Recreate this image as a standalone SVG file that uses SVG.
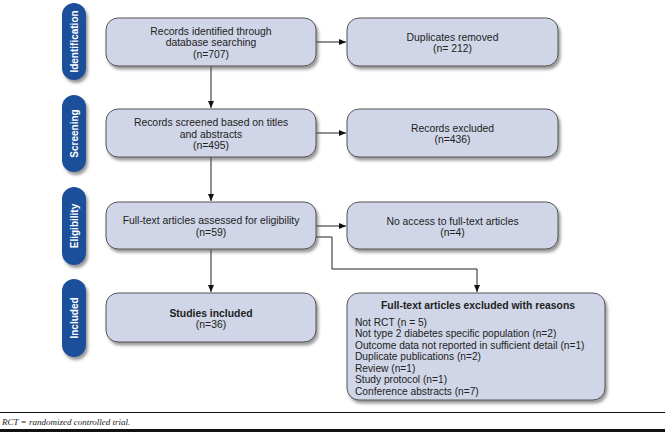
<svg xmlns="http://www.w3.org/2000/svg" width="665" height="432" viewBox="0 0 665 432">
<defs>
<filter id="sh" x="-10%" y="-10%" width="130%" height="140%">
<feDropShadow dx="2" dy="3" stdDeviation="1.5" flood-color="#555" flood-opacity="0.6"/>
</filter>
<marker id="ah" markerWidth="8" markerHeight="8" refX="7" refY="4" orient="auto" markerUnits="userSpaceOnUse">
<path d="M0,1 L7,4 L0,7 Z" fill="#111"/>
</marker>
<style>
.box{fill:#d0d6e7;stroke:#555;stroke-width:1;filter:url(#sh)}
.pill{fill:#1a4f9a;filter:url(#sh)}
.t{font-family:"Liberation Sans",Arial,sans-serif;font-size:10.4px;fill:#222;text-anchor:middle}
.l{text-anchor:start;font-size:10.2px}
.b{font-weight:bold}
.pt{font-family:"Liberation Sans",Arial,sans-serif;font-size:10px;font-weight:bold;fill:#fff;text-anchor:middle}
.c{fill:none;stroke:#222;stroke-width:1;marker-end:url(#ah)}
</style>
</defs>
<rect width="665" height="432" fill="#fff"/>

<g id="stage-identification"><rect class="pill" x="62" y="3" width="24" height="77" rx="12"/><text class="pt" transform="translate(77.5,41.5) rotate(-90)">Identification</text></g>
<g id="stage-screening"><rect class="pill" x="62" y="95" width="24" height="77" rx="12"/><text class="pt" transform="translate(77.5,133.5) rotate(-90)">Screening</text></g>
<g id="stage-eligibility"><rect class="pill" x="62" y="187" width="24" height="78" rx="12"/><text class="pt" transform="translate(77.5,226) rotate(-90)">Eligibility</text></g>
<g id="stage-included"><rect class="pill" x="62" y="279" width="24" height="78" rx="12"/><text class="pt" transform="translate(77.5,318) rotate(-90)">Included</text></g>

<g id="connectors">
<path class="c" d="M211,66 V108"/>
<path class="c" d="M211,157 V201"/>
<path class="c" d="M211,249 V292"/>
<path class="c" d="M316,42 H346"/>
<path class="c" d="M316,133 H346"/>
<path class="c" d="M316,226 H346"/>
<path class="c" d="M316,237 H332 V269 H477 V292"/>
</g>

<g id="records-identified"><rect class="box" x="106" y="18" width="210" height="48" rx="12"/>
<text class="t" x="211" y="34.5">Records identified through</text>
<text class="t" x="211" y="46">database searching</text>
<text class="t" x="211" y="57.5">(n=707)</text></g>

<g id="duplicates-removed"><rect class="box" x="347" y="18" width="211" height="48" rx="12"/>
<text class="t" x="452.5" y="40.5">Duplicates removed</text>
<text class="t" x="452.5" y="52">(n= 212)</text></g>

<g id="records-screened"><rect class="box" x="106" y="109" width="210" height="48" rx="12"/>
<text class="t" x="211" y="125.5">Records screened based on titles</text>
<text class="t" x="211" y="137.5">and abstracts</text>
<text class="t" x="211" y="149">(n=495)</text></g>

<g id="records-excluded"><rect class="box" x="347" y="109" width="211" height="48" rx="12"/>
<text class="t" x="452.5" y="131.5">Records excluded</text>
<text class="t" x="452.5" y="143">(n=436)</text></g>

<g id="full-text-assessed"><rect class="box" x="106" y="202" width="210" height="47" rx="12"/>
<text class="t" x="211" y="223.5">Full-text articles assessed for eligibility</text>
<text class="t" x="211" y="235.5">(n=59)</text></g>

<g id="no-access"><rect class="box" x="347" y="202" width="211" height="47" rx="12"/>
<text class="t" x="452.5" y="224.5">No access to full-text articles</text>
<text class="t" x="452.5" y="235.5">(n=4)</text></g>

<g id="studies-included"><rect class="box" x="106" y="293" width="210" height="49" rx="12"/>
<text class="t b" x="211" y="316.5">Studies included</text>
<text class="t" x="211" y="327.5">(n=36)</text></g>

<g id="full-text-excluded"><rect class="box" x="347" y="293" width="258" height="107" rx="12"/>
<text class="t b" x="478" y="308.5">Full-text articles excluded with reasons</text>
<text class="t l" x="355" y="325.5">Not RCT (n = 5)</text>
<text class="t l" x="355" y="337">Not type 2 diabetes specific population (n=2)</text>
<text class="t l" x="355" y="348.5">Outcome data not reported in sufficient detail (n=1)</text>
<text class="t l" x="355" y="360">Duplicate publications (n=2)</text>
<text class="t l" x="355" y="371.5">Review (n=1)</text>
<text class="t l" x="355" y="383">Study protocol (n=1)</text>
<text class="t l" x="355" y="394.5">Conference abstracts (n=7)</text></g>

<g id="footer">
<line x1="0" y1="412.5" x2="665" y2="412.5" stroke="#111" stroke-width="1.2"/>
<text x="2" y="425" font-family="Liberation Serif,'Times New Roman',serif" font-style="italic" font-size="9" fill="#222">RCT = randomized controlled trial.</text>
<rect x="0" y="429" width="665" height="3" fill="#111"/>
</g>
</svg>
